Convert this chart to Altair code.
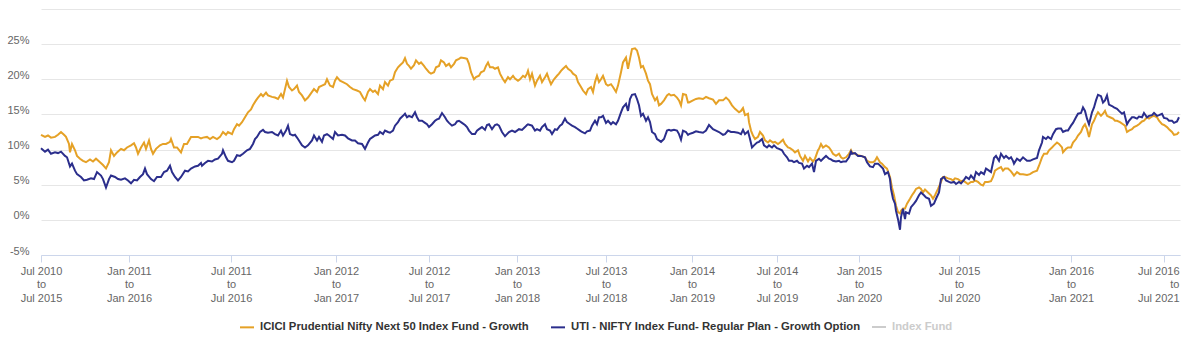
import altair as alt
import pandas as pd

ICICI = "ICICI Prudential Nifty Next 50 Index Fund - Growth"
UTI = "UTI - NIFTY Index Fund- Regular Plan - Growth Option"
HIDDEN = "Index Fund"

# observation index (position along the ordinal time axis) and 5y rolling return (%)
icici_x = [0, 4, 7, 10, 14, 17, 20, 23, 25, 28, 29, 31, 34, 36, 39, 42, 45, 49, 52, 55, 59, 62, 65, 68, 70, 73, 76, 80, 83, 86, 90, 93, 95, 97, 100, 103, 105, 108, 110, 112, 115, 119, 122, 125, 129, 130, 133, 136, 140, 143, 146, 150, 154, 157, 160,
           162, 166, 169, 172, 176, 179, 182, 185, 187, 191, 193, 196, 198, 201, 204, 207, 210, 212, 215, 217, 220, 222, 225, 227, 231, 234, 237, 240, 242, 244, 246, 248, 251, 253, 256, 258, 261, 264, 267, 271, 273, 276, 278, 281, 284, 286, 289, 292, 294, 296, 299, 302, 306, 309, 312, 316, 319, 322, 324,
           327, 329, 332, 334, 337, 339, 342, 344, 347, 349, 352, 354, 357, 359, 362, 364, 366, 368, 370, 373, 375, 378, 380, 383, 385, 388, 390, 393, 395, 398, 400, 403, 405, 408, 410, 413, 415, 418, 420, 424, 426, 428, 430, 433, 435, 438, 440, 443, 445, 447, 449, 452, 454, 457, 459, 462, 464, 467, 469, 472, 474, 477, 479, 482, 484, 486,
           487, 489, 491, 494, 496, 499, 501, 504, 506, 508, 510, 513, 516, 518, 520, 522, 525, 527, 530, 532, 535, 537, 540, 542, 545, 547, 550, 552, 554, 556, 558, 560, 562, 565, 567, 570, 572, 575, 577, 580, 582, 585, 587, 589, 591, 594, 596, 598, 600, 602, 605, 607, 609, 611, 614, 616, 618, 620, 623, 626, 628, 630, 633, 636, 638, 640, 642, 645, 647, 648,
           652, 655, 658, 662, 665, 668, 672, 675, 678, 682, 685, 688, 691, 694, 698, 700, 702, 704, 707, 708, 710, 712, 714, 717, 719, 722, 724, 727, 729, 732, 734, 737, 739, 742, 744, 747, 749, 752, 754, 757, 759, 762, 764, 767, 769, 772, 774, 777, 778, 780, 782, 785, 788, 790, 792, 795, 798, 800, 802, 805, 808, 810,
           811, 814, 817, 820, 824, 826, 829, 832, 834, 836, 839, 841, 844, 846, 849, 851, 853, 855, 857, 859, 860, 862, 864, 866, 869, 871, 873, 875, 878, 880, 882, 884, 887, 890, 892, 894, 897, 900, 902, 904, 907, 910, 912, 914, 917, 920, 922, 924, 927, 930, 932, 934, 937, 940, 942, 944, 947, 950, 952, 954, 957, 960, 962, 964, 967, 970, 972,
           973, 976, 979, 982, 986, 989, 992, 996, 998, 1001, 1003, 1006, 1008, 1011, 1013, 1016, 1018, 1021, 1022, 1025, 1027, 1030, 1032, 1035, 1037, 1040, 1042, 1044, 1046, 1048, 1051, 1053, 1055, 1057, 1060, 1062, 1064, 1066, 1069, 1072, 1074, 1076, 1079, 1082, 1084, 1086, 1088, 1091, 1093, 1096, 1098, 1101, 1103, 1106, 1108, 1111, 1113, 1116, 1118, 1121, 1123, 1126, 1128, 1131, 1133, 1136, 1138]
icici_y = [12.1, 11.8, 12.0, 11.7, 11.8, 12.1, 12.5, 12.1, 11.8, 10.8, 9.6, 10.8, 9.9, 9.1, 8.7, 8.4, 8.2, 8.6, 8.3, 8.7, 8.2, 7.8, 7.3, 8.2, 9.9, 9.1, 9.6, 10.1, 9.9, 10.3, 10.6, 10.9, 10.3, 9.4, 10.3, 11.0, 10.1, 11.3, 10.1, 9.4, 10.1, 10.6, 10.8, 10.8, 11.1, 11.5, 10.3, 10.3, 9.6, 10.8, 10.8, 11.8, 11.8, 11.8, 11.6,
           11.7, 11.8, 11.5, 11.8, 11.5, 11.8, 12.5, 12.1, 12.5, 12.2, 12.9, 13.6, 13.4, 13.9, 14.6, 15.3, 15.7, 16.3, 17.0, 17.4, 17.9, 17.6, 18.1, 17.7, 17.5, 17.4, 17.2, 17.9, 17.4, 18.6, 19.8, 18.9, 18.4, 18.6, 19.1, 18.2, 17.7, 17.0, 17.4, 18.2, 18.6, 18.2, 18.9, 19.1, 19.3, 20.0, 19.1, 18.9, 19.8, 20.3, 19.8, 19.6, 19.3, 18.9, 18.6, 18.4, 18.2, 17.4, 17.0,
           18.2, 18.6, 18.2, 18.4, 17.9, 19.1, 18.6, 19.6, 19.1, 19.8, 20.0, 21.0, 21.7, 22.0, 22.4, 23.0, 22.2, 21.9, 21.5, 22.0, 22.7, 22.2, 22.4, 21.9, 21.5, 21.0, 20.8, 21.0, 21.7, 21.9, 22.7, 22.4, 21.9, 22.2, 21.7, 22.2, 22.7, 22.9, 23.1, 23.0, 22.9, 22.2, 21.0, 20.0, 20.3, 20.5, 21.0, 21.2, 21.9, 22.4, 21.7, 21.7, 21.5, 21.7, 20.8, 20.0, 19.6, 20.3, 20.0, 20.5, 20.1, 19.8, 20.0, 20.5, 20.3, 20.8,
           21.2, 20.0, 20.8, 19.1, 19.8, 20.5, 19.6, 20.3, 20.8, 20.0, 19.3, 20.0, 20.5, 20.8, 21.2, 21.5, 21.9, 21.5, 21.2, 20.8, 20.5, 19.6, 18.9, 18.4, 17.9, 18.6, 18.9, 18.2, 19.6, 20.5, 19.6, 20.0, 20.5, 19.3, 19.1, 19.3, 18.9, 18.2, 19.1, 21.0, 22.4, 23.1, 21.5, 22.9, 24.3, 24.4, 24.1, 23.1, 21.7, 21.9, 20.8, 19.8, 19.3, 17.9, 17.0, 17.4, 16.3, 16.5, 17.0, 17.7, 17.9, 17.7, 17.8, 17.4, 17.0, 16.3, 17.9, 17.8, 16.7, 16.7,
           17.0, 17.2, 17.3, 17.2, 17.5, 17.3, 17.1, 16.5, 17.0, 17.0, 17.4, 17.0, 16.3, 15.8, 15.3, 15.5, 15.9, 14.9, 15.1, 13.9, 12.7, 12.0, 11.5, 11.8, 12.5, 12.0, 11.3, 11.0, 11.3, 11.0, 11.1, 10.8, 11.0, 11.4, 10.8, 10.3, 10.2, 9.9, 9.6, 9.9, 9.1, 8.4, 9.1, 8.3, 8.8, 8.3, 8.7, 9.9, 10.1, 10.8, 10.3, 10.6, 10.3, 9.9, 9.4, 9.1, 9.4, 8.9, 8.7, 8.9, 9.4, 9.9,
           9.6, 9.4, 9.2, 9.1, 8.9, 8.4, 8.2, 8.2, 8.4, 8.9, 8.2, 8.0, 7.5, 7.3, 6.1, 4.6, 3.5, 2.0, 1.1, 0.9, 1.3, 1.6, 1.6, 2.3, 3.0, 3.5, 3.9, 4.4, 4.6, 4.4, 3.9, 4.3, 3.9, 3.5, 3.0, 3.5, 4.4, 5.4, 6.1, 6.1, 5.9, 5.8, 5.6, 5.9, 5.8, 5.5, 5.6, 5.4, 5.1, 5.4, 5.4, 5.6, 5.4, 5.0, 4.9, 5.4, 5.4, 5.5, 6.1, 7.0, 7.3, 7.5, 7.0, 7.3, 7.3, 6.9, 6.5,
           6.3, 6.8, 6.5, 6.5, 6.4, 6.5, 6.8, 7.0, 7.7, 8.9, 9.4, 9.4, 9.9, 10.3, 10.6, 11.0, 10.8, 10.3, 9.6, 10.1, 10.3, 10.3, 11.0, 11.5, 12.0, 12.5, 13.2, 13.6, 12.9, 11.8, 13.6, 14.1, 14.8, 15.3, 14.8, 15.1, 15.5, 14.8, 14.6, 14.4, 14.1, 14.1, 13.9, 13.6, 13.4, 12.5, 12.7, 12.9, 13.2, 13.4, 13.6, 14.0, 14.1, 14.6, 14.4, 14.7, 14.8, 14.6, 14.1, 13.6, 13.5, 13.2, 12.9, 12.5, 12.1, 12.2, 12.5]

uti_x = [0, 4, 7, 10, 14, 17, 20, 24, 26, 29, 31, 34, 36, 40, 43, 46, 50, 53, 56, 60, 62, 65, 68, 70, 74, 77, 80, 84, 87, 90, 93, 96, 99, 102, 104, 106, 110, 113, 116, 120, 123, 126, 129, 131, 134, 137, 140, 144, 147, 150, 154, 157, 160,
         161, 164, 167, 171, 174, 177, 181, 182, 185, 187, 191, 193, 196, 199, 202, 206, 209, 212, 214, 216, 219, 222, 224, 227, 231, 234, 237, 240, 242, 245, 247, 249, 252, 254, 257, 261, 264, 267, 271, 273, 276, 278, 281, 283, 286, 288, 292, 294, 297, 301, 304, 307, 311, 314, 317, 321, 324,
         327, 329, 332, 334, 337, 339, 342, 344, 347, 349, 352, 354, 357, 359, 362, 364, 366, 368, 371, 374, 376, 378, 381, 384, 386, 388, 391, 394, 396, 398, 401, 404, 406, 408, 411, 414, 416, 418, 421, 424, 426, 428, 431, 434, 436, 438, 441, 444, 446, 448, 451, 454, 456, 458, 461, 464, 466, 468, 471, 474, 476, 478, 481, 484, 486,
         487, 489, 491, 494, 496, 499, 501, 504, 506, 509, 511, 514, 516, 519, 521, 524, 526, 529, 531, 534, 536, 539, 541, 544, 546, 549, 551, 554, 556, 558, 560, 562, 565, 567, 570, 572, 575, 577, 580, 582, 585, 587, 589, 591, 594, 596, 598, 600, 602, 605, 607, 609, 611, 614, 616, 618, 620, 623, 626, 628, 630, 633, 636, 638, 640, 642, 645, 647, 648,
         652, 655, 658, 662, 665, 668, 672, 675, 678, 682, 684, 687, 690, 693, 697, 700, 702, 704, 707, 709, 711, 713, 716, 718, 721, 723, 726, 728, 731, 733, 736, 738, 741, 743, 746, 748, 751, 753, 756, 758, 761, 763, 766, 768, 771, 773, 775, 778, 780, 782, 785, 788, 790, 792, 795, 798, 800, 802, 805, 808, 810,
         811, 814, 817, 820, 824, 826, 829, 832, 834, 837, 840, 842, 844, 847, 849, 850, 852, 854, 855, 857, 859, 860, 862, 864, 865, 868, 870, 873, 875, 878, 880, 883, 885, 888, 890, 893, 895, 898, 900, 903, 905, 908, 910, 913, 915, 918, 920, 923, 925, 928, 930, 933, 935, 938, 940, 943, 945, 948, 950, 953, 955, 958, 960, 963, 965, 968, 970, 972,
         973, 976, 979, 982, 986, 989, 992, 996, 998, 1001, 1002, 1005, 1007, 1010, 1012, 1015, 1017, 1020, 1022, 1025, 1027, 1030, 1032, 1035, 1037, 1040, 1042, 1044, 1046, 1048, 1051, 1053, 1055, 1057, 1060, 1062, 1064, 1066, 1068, 1071, 1073, 1076, 1078, 1081, 1083, 1086, 1088, 1091, 1093, 1096, 1098, 1101, 1103, 1106, 1108, 1111, 1113, 1116, 1118, 1121, 1123, 1126, 1128, 1131, 1133, 1136, 1138]
uti_y = [10.2, 9.7, 10.0, 9.4, 9.6, 9.5, 9.7, 9.1, 8.9, 7.6, 8.0, 7.0, 6.5, 6.1, 5.6, 5.7, 5.9, 5.8, 6.8, 6.3, 5.8, 4.6, 5.8, 6.3, 6.1, 5.8, 5.7, 5.9, 5.6, 5.2, 5.7, 5.6, 6.1, 6.5, 7.3, 6.5, 5.8, 5.5, 6.1, 6.1, 6.8, 7.0, 7.7, 6.8, 6.1, 5.6, 6.1, 7.0, 6.9, 7.3, 7.6, 7.7, 8.1,
         7.7, 8.1, 8.4, 8.3, 8.6, 8.7, 9.4, 9.9, 8.9, 8.4, 8.2, 8.4, 9.2, 9.1, 9.4, 9.9, 10.1, 10.8, 11.5, 11.8, 12.5, 12.8, 12.5, 12.4, 12.5, 12.2, 12.0, 12.7, 12.0, 12.7, 13.4, 12.2, 12.0, 12.1, 11.5, 10.6, 10.3, 10.6, 11.3, 12.0, 11.3, 11.8, 11.1, 12.0, 12.2, 12.0, 11.5, 12.5, 12.0, 12.1, 12.0, 11.6, 11.3, 11.3, 10.9, 10.8, 10.1,
         11.0, 11.5, 11.8, 12.0, 12.1, 12.5, 12.2, 12.7, 12.5, 12.4, 12.7, 13.4, 13.9, 14.4, 14.8, 15.1, 14.6, 14.8, 14.6, 15.3, 14.6, 14.1, 14.1, 13.8, 13.6, 13.2, 13.6, 14.1, 14.3, 14.4, 15.2, 14.6, 14.1, 13.8, 13.4, 13.6, 14.0, 14.1, 13.8, 13.5, 13.2, 12.7, 12.2, 12.2, 12.7, 12.9, 13.2, 12.8, 13.5, 13.6, 12.9, 13.5, 13.6, 13.4, 12.5, 11.9, 12.2, 12.5, 12.7, 12.5, 12.7, 12.9, 12.8, 13.2, 13.5,
         13.6, 13.5, 13.4, 12.7, 12.9, 12.7, 13.2, 13.6, 12.9, 12.7, 12.2, 12.9, 12.8, 13.4, 13.6, 14.4, 13.9, 13.6, 13.4, 13.2, 13.0, 12.7, 12.5, 12.3, 12.6, 12.7, 13.4, 14.1, 13.6, 14.6, 14.6, 14.8, 13.8, 14.1, 13.6, 13.9, 13.6, 14.1, 15.3, 16.0, 16.5, 15.5, 17.2, 17.8, 17.9, 17.2, 16.3, 14.8, 15.1, 14.1, 14.6, 13.9, 12.5, 12.2, 11.5, 11.3, 11.1, 11.5, 12.7, 12.8, 12.7, 12.8, 12.7, 12.2, 11.4, 12.7, 12.5, 12.1, 12.2,
         12.4, 12.6, 12.5, 12.4, 12.7, 13.5, 12.9, 12.7, 12.5, 12.1, 12.2, 12.7, 12.5, 12.5, 12.4, 12.2, 12.8, 12.2, 12.6, 11.5, 10.3, 10.6, 11.0, 11.1, 11.5, 10.6, 10.3, 10.6, 10.3, 10.6, 10.2, 10.1, 9.9, 9.4, 8.9, 8.4, 8.4, 8.2, 8.4, 8.1, 8.0, 7.3, 7.7, 7.5, 8.0, 6.8, 8.4, 8.7, 8.4, 8.7, 9.1, 8.7, 8.6, 8.4, 8.3, 8.4, 8.2, 8.3, 8.3, 8.9, 9.7,
         9.4, 9.5, 9.1, 9.1, 8.9, 8.2, 7.6, 7.5, 8.0, 8.0, 7.6, 7.3, 6.5, 6.8, 5.8, 4.4, 3.0, 2.3, 1.3, 0.1, -1.4, 0.4, 1.6, 0.1, 1.1, 0.9, 1.8, 2.3, 2.7, 3.5, 3.9, 3.5, 3.2, 3.0, 2.0, 2.3, 3.0, 3.9, 5.8, 6.1, 5.6, 5.4, 5.3, 5.4, 5.1, 5.4, 5.2, 5.7, 6.1, 5.8, 6.3, 5.8, 6.8, 6.4, 6.8, 6.5, 7.3, 7.0, 6.8, 8.8, 9.1, 8.4, 9.4, 8.8, 9.1, 8.7, 8.9, 8.4,
         8.0, 8.7, 8.4, 8.9, 8.4, 8.4, 8.6, 8.8, 9.9, 11.0, 11.8, 11.5, 11.8, 11.5, 12.2, 12.9, 13.0, 13.0, 12.5, 12.7, 12.7, 13.4, 13.8, 14.6, 15.1, 15.2, 16.0, 15.5, 14.4, 13.6, 15.3, 16.0, 17.0, 17.8, 17.6, 16.7, 17.0, 17.7, 16.4, 16.2, 16.0, 15.8, 15.5, 15.1, 15.3, 13.6, 14.1, 14.6, 14.6, 14.4, 14.7, 14.6, 15.2, 14.6, 14.8, 14.9, 15.2, 14.8, 14.9, 15.1, 14.5, 14.4, 14.1, 14.1, 13.8, 14.0, 14.6]

# x-axis category ticks (index positions) and their rolling-window labels
tick_pos = [0, 88, 190, 295, 388, 476, 565, 651, 736, 818, 918, 1030, 1123]
tick_from = ["Jul 2010", "Jan 2011", "Jul 2011", "Jan 2012", "Jul 2012", "Jan 2013", "Jul 2013",
             "Jan 2014", "Jul 2014", "Jan 2015", "Jul 2015", "Jan 2016", "Jul 2016"]
tick_to = ["Jul 2015", "Jan 2016", "Jul 2016", "Jan 2017", "Jul 2017", "Jan 2018", "Jul 2018",
           "Jan 2019", "Jul 2019", "Jan 2020", "Jul 2020", "Jan 2021", "Jul 2021"]
y_ticks = [-5, 0, 5, 10, 15, 20, 25, 30]

ORANGE = "#E5A126"
BLUE = "#2B2E8C"
GREY = "#cccccc"

df = pd.concat([
    pd.DataFrame({"idx": icici_x, "ret": icici_y, "fund": ICICI}),
    pd.DataFrame({"idx": uti_x, "ret": uti_y, "fund": UTI}),
], ignore_index=True)

hidden_df = pd.DataFrame({"idx": [0], "ret": [10.0], "series": [HIDDEN]})

parts = [f"datum.value == {p} ? ['{a}', 'to', '{b}']" for p, a, b in zip(tick_pos, tick_from, tick_to)]
x_label_expr = " : ".join(parts) + " : ''"
last = tick_pos[-1]

x_enc = alt.X(
    "idx:Q",
    scale=alt.Scale(domain=[0, 1139], nice=False, zero=False),
    axis=alt.Axis(
        values=tick_pos, tickCount=40, labelExpr=x_label_expr, title=None, grid=False,
        domainColor="#ccd6eb", tickColor="#ccd6eb", tickSize=7, labelPadding=3,
        labelFontSize=11, labelColor="#666666", labelLineHeight=13.5,
        labelBaseline="top", labelFlush=False, labelOverlap=False,
        labelAlign={"condition": {"test": f"datum.value == {last}", "value": "right"}, "value": "center"},
        labelOffset={"condition": {"test": f"datum.value == {last}", "value": 15}, "value": 0},
    ),
)
y_enc = alt.Y(
    "ret:Q",
    scale=alt.Scale(domain=[-5, 30], nice=False, zero=False),
    axis=alt.Axis(
        values=y_ticks, tickCount=20, labelExpr="datum.value == 30 ? '' : datum.value + '%'",
        title=None, domain=False, ticks=False, gridColor="#e6e6e6", grid=True,
        labelOverlap=False, labelFlush=False,
        labelPadding=12, labelBaseline="alphabetic", labelOffset=-1,
        labelFontSize=11, labelColor="#666666",
    ),
)

legend_common = dict(
    orient="none", direction="horizontal", title=None, symbolType="stroke",
    symbolSize=196, symbolStrokeWidth=2, labelFontSize=11.3, labelFontWeight="bold",
    labelOffset=5, padding=0, labelLimit=500, columnPadding=18, legendY=310,
)

lines = alt.Chart(df).mark_line(strokeWidth=2).encode(
    x=x_enc,
    y=y_enc,
    color=alt.Color(
        "fund:N",
        scale=alt.Scale(domain=[ICICI, UTI], range=[ORANGE, BLUE]),
        legend=alt.Legend(legendX=198, labelColor="#333333", **legend_common),
    ),
)

hidden = alt.Chart(hidden_df).mark_line(strokeWidth=2).encode(
    x="idx:Q",
    y="ret:Q",
    stroke=alt.Stroke(
        "series:N",
        scale=alt.Scale(domain=[HIDDEN], range=[GREY]),
        legend=alt.Legend(legendX=830, labelColor=GREY, **legend_common),
    ),
)

chart = alt.layer(lines, hidden).properties(
    width=1139,
    height=246,
    padding={"left": 41, "top": 9, "right": 20, "bottom": 98},
    autosize=alt.AutoSizeParams(type="none"),
).configure(font="Liberation Sans").configure_view(stroke=None)

chart.save("out.html", embed_options={"renderer": "svg", "actions": False})
